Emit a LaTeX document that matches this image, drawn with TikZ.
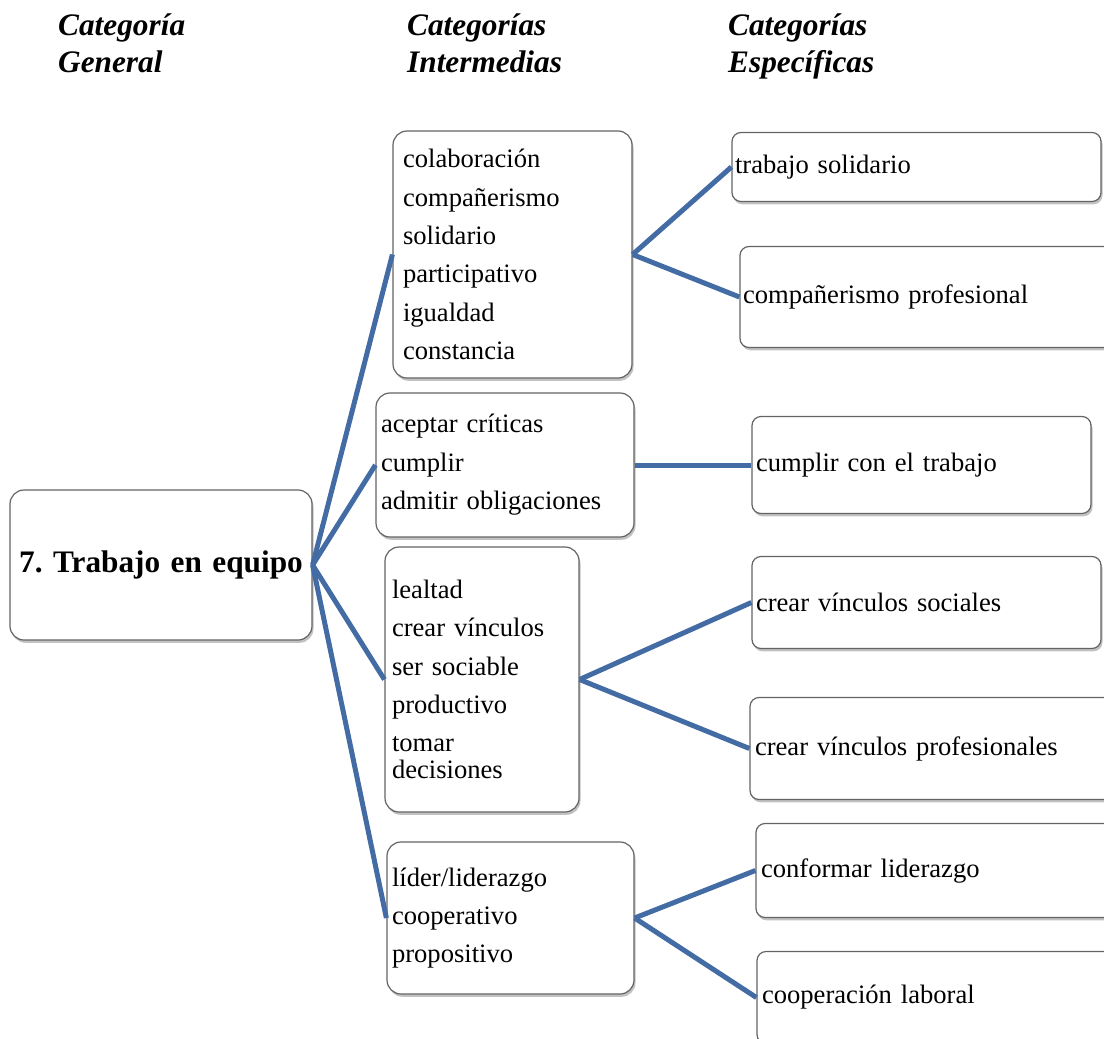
\documentclass[tikz,border=0pt]{standalone}
\usepackage{fontspec}
\setmainfont[WordSpace=0.8]{Liberation Serif}
\usetikzlibrary{shadows}
\definecolor{link}{RGB}{68,108,164}
\definecolor{rim}{RGB}{100,100,100}
\frenchspacing
\begin{document}
\begin{tikzpicture}[x=1pt,y=-1pt,
  head/.style={anchor=base west, inner sep=0pt, font=\fontsize{31.3}{37}\selectfont\bfseries\itshape},
  card/.style={draw=rim, line width=1.2pt, fill=white, rounded corners=#1,
    drop shadow={shadow xshift=1.5pt, shadow yshift=-2.8pt, opacity=0.4, fill=black!60},
    inner ysep=0pt, align=left, font=\fontsize{26.6}{38.4}\selectfont},
  card/.default=14pt,
  leaf/.style={card=9pt},
  link/.style={draw=link, line width=5pt}]
\useasboundingbox (0,0) rectangle (1104,1039);
\clip (0,0) rectangle (1104,1039);

% column headings
\node[head] (hga) at (58,35) {Categoría};
\node[head] (hgb) at (58,72) {General};
\node[head] (hia) at (407,35) {Categorías};
\node[head] (hib) at (407,72) {Intermedias};
\node[head] (hea) at (728,35) {Categorías};
\node[head] (heb) at (728,72) {Específicas};

% general category
\node[card, align=center, minimum width=302pt, minimum height=150pt, text width=296pt,
      inner xsep=3pt, font=\fontsize{31.3}{37}\selectfont\bfseries] (gen) at (161,565) {7. Trabajo en equipo};

% intermediate categories
\node[card, minimum width=239pt, minimum height=247pt, text width=219pt, inner xsep=10pt] (i1) at (512.5,254.5)
  {colaboración\\compañerismo\\solidario\\participativo\\igualdad\\constancia};
\node[card, minimum width=258pt, minimum height=144pt, text width=248pt, inner xsep=5pt] (i2) at (505,465)
  {aceptar críticas\\cumplir\\admitir obligaciones};
\node[card, minimum width=194pt, minimum height=265pt, text width=180pt, inner xsep=7pt] (i3) at (482,679.5)
  {lealtad\\crear vínculos\\ser sociable\\productivo\\tomar\\[-11.4pt]decisiones};
\node[card, minimum width=247pt, minimum height=152pt, text width=237pt, inner xsep=5pt] (i4) at (510.5,918)
  {líder/liderazgo\\cooperativo\\propositivo};

% specific categories
\node[leaf, minimum width=369pt, minimum height=69pt, text width=363pt, inner xsep=3pt] (s1) at (916.5,167) {trabajo solidario};
\node[leaf, minimum width=374pt, minimum height=101pt, text width=368pt, inner xsep=3pt] (s2) at (927,297) {compañerismo profesional};
\node[leaf, minimum width=339pt, minimum height=97pt, text width=331pt, inner xsep=4pt] (s3) at (921.5,465) {cumplir con el trabajo};
\node[leaf, minimum width=349pt, minimum height=92pt, text width=341pt, inner xsep=4pt] (s4) at (926.5,602.5) {crear vínculos sociales};
\node[leaf, minimum width=364pt, minimum height=102pt, text width=354pt, inner xsep=5pt] (s5) at (932,748.5) {crear vínculos profesionales};
\node[leaf, minimum width=358pt, minimum height=94pt, text width=348pt, inner xsep=5pt] (s6) at (935,870.5) {conformar liderazgo};
\node[leaf, minimum width=357pt, minimum height=92pt, text width=347pt, inner xsep=5pt] (s7) at (935.5,997.5) {cooperación laboral};

% connectors
\foreach \t in {i1,i2,i3,i4} \draw[link] (gen.east) -- (\t.west);
\draw[link] (i1.east) -- (s1.west);
\draw[link] (i1.east) -- (s2.west);
\draw[link] (i2.east) -- (s3.west);
\draw[link] (i3.east) -- (s4.west);
\draw[link] (i3.east) -- (s5.west);
\draw[link] (i4.east) -- (s6.west);
\draw[link] (i4.east) -- (s7.west);
\end{tikzpicture}
\end{document}
